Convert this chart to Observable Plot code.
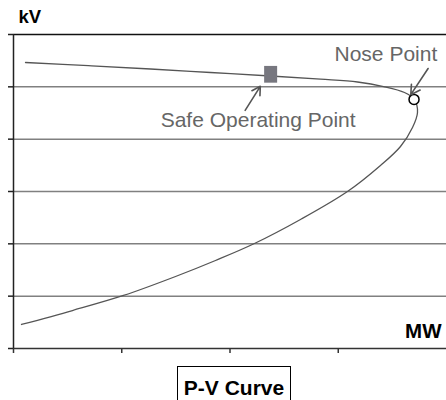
<!DOCTYPE html>
<html>
<head>
<meta charset="utf-8">
<script src="https://cdn.jsdelivr.net/npm/d3@7"></script>
<script src="https://cdn.jsdelivr.net/npm/@observablehq/plot@0.6"></script>
<style>
  html, body { margin: 0; padding: 0; background: #fff; }
  #chart svg { display: block; }
  #caption {
    position: absolute; left: 177px; top: 366px; width: 114px; height: 40px;
    box-sizing: border-box; border: 1.5px solid #000; text-align: center;
    font: bold 21px "Liberation Sans", Arial, sans-serif; padding-top: 9px; color: #000;
  }
</style>
</head>
<body>
<div id="chart"></div>
<div id="caption">P-V Curve</div>
<script>
// P-V curve traced from lower branch up to the nose, then back along the upper branch
const mw = [0.074, 0.545, 1.016, 1.497, 1.866, 2.226, 2.651, 3.085, 3.390, 3.575, 3.686, 3.732, 3.704,
            3.612, 3.418, 3.178, 2.836, 2.374, 1.820, 1.266, 0.693, 0.111];
const kv = [0.459, 0.726, 1.013, 1.376, 1.682, 2.006, 2.465, 2.999, 3.497, 3.860, 4.223, 4.510, 4.758,
            4.892, 5.006, 5.092, 5.146, 5.207, 5.274, 5.341, 5.404, 5.465];

const noseMw = [3.70];
const noseKv = [4.76];
const safeMw = [2.38];
const safeKv = [5.23];

const labelText = ["Nose Point", "Safe Operating Point"];
const labelMw = [3.44, 2.26];
const labelKv = [5.63, 4.37];

const arrowFromMw = [3.83, 2.14];
const arrowFromKv = [5.35, 4.55];
const arrowToMw = [3.67, 2.28];
const arrowToKv = [4.85, 5.01];

const gridKv = [1, 2, 3, 4, 5];
const topKv = [6];
const tickKv = [0, 1, 2, 3, 4, 5, 6];
const tickMw = [0, 1, 2, 3];
const axisTitleY = ["kV"];
const axisTitleX = ["MW"];

const curve = mw.map((x, i) => ({mw: x, kv: kv[i]}));
const nose = noseMw.map((x, i) => ({mw: x, kv: noseKv[i]}));
const safe = safeMw.map((x, i) => ({mw: x, kv: safeKv[i]}));
const labels = labelText.map((t, i) => ({text: t, mw: labelMw[i], kv: labelKv[i]}));
const arrows = arrowFromMw.map((x, i) => ({x1: x, y1: arrowFromKv[i], x2: arrowToMw[i], y2: arrowToKv[i]}));

const chart = Plot.plot({
  width: 446,
  height: 362,
  marginLeft: 13,
  marginRight: 0,
  marginTop: 34,
  marginBottom: 14,
  style: {fontFamily: "'Liberation Sans', Arial, sans-serif", background: "#fff"},
  x: {domain: [0, 4]},
  y: {domain: [0, 6]},
  marks: [
    Plot.ruleY(gridKv, {stroke: "#808080", strokeWidth: 1.5}),
    Plot.ruleY(topKv, {stroke: "#111", strokeWidth: 1.5}),
    Plot.ruleY([0], {stroke: "#333", strokeWidth: 1.5}),
    Plot.ruleX([0], {stroke: "#222", strokeWidth: 1.5}),
    Plot.axisY({ticks: tickKv, tickSize: 5, tickFormat: () => "", stroke: "#222", strokeWidth: 1.5, label: null}),
    Plot.axisX({ticks: tickMw, tickSize: 5, tickFormat: () => "", stroke: "#333", strokeWidth: 1.5, label: null}),
    Plot.line(curve, {x: "mw", y: "kv", curve: "catmull-rom", stroke: "#555", strokeWidth: 1.3}),
    Plot.rect(safe, {x1: d => d.mw - 0.06, x2: d => d.mw + 0.06, y1: d => d.kv - 0.16, y2: d => d.kv + 0.16, fill: "#77777f"}),
    Plot.dot(nose, {x: "mw", y: "kv", r: 5, fill: "#fff", stroke: "#000", strokeWidth: 1.5}),
    Plot.arrow(arrows, {x1: "x1", y1: "y1", x2: "x2", y2: "y2", stroke: "#555", strokeWidth: 1.6, headLength: 11, bend: 0}),
    Plot.text(labels, {x: "mw", y: "kv", text: "text", fontSize: 21, fill: "#666", lineAnchor: "middle"}),
    Plot.text(axisTitleY, {frameAnchor: "top-left", text: d => d, dx: 5, dy: -17, textAnchor: "start", lineAnchor: "middle", fontSize: 18.5, fontWeight: "bold", fill: "#000"}),
    Plot.text(axisTitleX, {frameAnchor: "bottom-right", text: d => d, dx: -5, dy: -17, textAnchor: "end", lineAnchor: "middle", fontSize: 20.5, fontWeight: "bold", fill: "#000"})
  ]
});
document.getElementById("chart").append(chart);
</script>
</body>
</html>
